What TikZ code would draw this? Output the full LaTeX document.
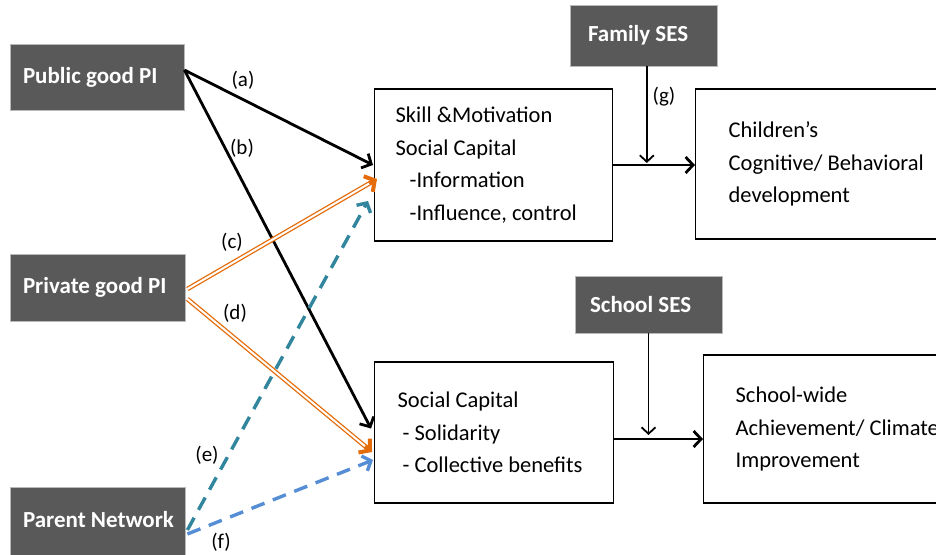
\documentclass[tikz,border=0pt]{standalone}
\usepackage{fontspec}
\setmainfont{Carlito}
\usetikzlibrary{arrows.meta,calc}
\definecolor{boxgray}{HTML}{595959}
\definecolor{orng}{HTML}{E46C0A}
\definecolor{tealc}{HTML}{31859C}
\definecolor{bluec}{HTML}{558ED5}
\begin{document}
\begin{tikzpicture}[x=1pt,y=-1pt,
  darkbox/.style={fill=boxgray, draw=gray!55, line width=0.8pt, text=white, inner ysep=0pt,
    align=flush left, font=\fontsize{23}{26}\selectfont\bfseries},
  whitebox/.style={draw=black, line width=1.3pt, fill=white, align=flush left, anchor=west, inner ysep=0pt,
    font=\fontsize{22.5}{32.5}\selectfont},
  lbl/.style={font=\fontsize{21}{25}\selectfont, inner sep=0pt},
  blk/.style={line width=2.8pt, -{Straight Barb[length=7.5pt,width=16pt]}},
  thinblk/.style={line width=1.8pt, -{Straight Barb[length=6.5pt,width=14pt]}},
  dbl/.style={draw=orng, double=white, line width=1.3pt, double distance=2pt, shorten >=7pt},
  otip/.style={orng, line width=4pt, -{Straight Barb[length=7.5pt,width=18pt]}},
  dsh/.style={line width=3.4pt, dash pattern=on 14pt off 9pt, -{Straight Barb[length=7pt,width=16pt]}}
]
\useasboundingbox (0,0) rectangle (936,554);
\clip (0,0) rectangle (936,554);
% dark boxes
\node[darkbox, text width=148pt, inner xsep=13pt, minimum height=66pt] (pub) at (97,77) {Public good PI};
\node[darkbox, text width=149pt, inner xsep=13pt, minimum height=67pt] (priv) at (97.5,287.5) {Private good PI};
\node[darkbox, text width=149pt, inner xsep=13pt, minimum height=70pt] (par) at (97.5,522) {\raisebox{5pt}{Parent Network}};
\node[darkbox, text width=111pt, inner xsep=18pt, minimum height=61pt] (fam) at (643.5,35.5) {Family SES};
\node[darkbox, text width=117pt, inner xsep=15pt, minimum height=57pt] (ssch) at (648.5,304.5) {School SES};
% white boxes
\node[whitebox, text width=196pt, inner xsep=21pt, minimum height=152pt] (skill) at (374,165)
  {Skill \&Motivation\\Social Capital\\\hspace*{14pt}-Information\\\hspace*{14pt}-Influence, control};
\node[whitebox, text width=230pt, inner xsep=33pt, minimum height=150pt] (child) at (695,164)
  {Children’s\\Cognitive/ Behavioral\\development};
\node[whitebox, text width=193pt, inner xsep=23pt, minimum height=141pt] (soc) at (374,432.5)
  {Social Capital\\\hspace*{5pt}- Solidarity\\\hspace*{5pt}- Collective benefits};
\node[whitebox, text width=250pt, inner xsep=32pt, minimum height=148pt] (swide) at (703,429)
  {School-wide\\Achievement/ Climate\\Improvement};
% connector end points
\coordinate (a0) at ($(pub.east)+(0,-7)$);
\coordinate (a1) at ($(skill.west)+(-1,0)$);
\coordinate (b1) at ($(soc.west)+(-3,-4)$);
\coordinate (c0) at ($(priv.east)+(2,1.5)$);
\coordinate (c1) at ($(skill.west)+(3,14)$);
\coordinate (d0) at ($(priv.east)+(2,11.5)$);
\coordinate (d1) at ($(soc.west)+(-2,19.5)$);
\coordinate (e0) at ($(par.east)+(2,8)$);
\coordinate (e1) at ($(skill.west)+(-6,36)$);
\coordinate (f0) at ($(par.east)+(2,12)$);
\coordinate (f1) at ($(soc.west)+(-1,27.5)$);
% (a),(b)
\draw[blk] (a0) -- (a1);
\draw[blk] (a0) -- (b1);
% (c),(d) orange double
\draw[dbl] (c0) -- (c1);
\draw[otip] ($(c1)!9pt!(c0)$) -- (c1);
\draw[dbl] (d0) -- (d1);
\draw[otip] ($(d1)!9pt!(d0)$) -- (d1);
% (e),(f) dashed
\draw[dsh, tealc] (e0) -- (e1);
\draw[dsh, bluec] (f0) -- (f1);
% outputs
\coordinate (t0) at (skill.east);
\coordinate (t1) at (skill.east -| child.west);
\draw[blk] (t0) -- (t1);
\coordinate (j1) at ($(t0)!0.41!(t1)+(0,-2)$);
\draw[thinblk] (fam.south -| j1) -- (j1);
\coordinate (u0) at ($(soc.east)+(0,6.5)$);
\coordinate (u1) at (u0 -| swide.west);
\draw[blk] (u0) -- (u1);
\coordinate (j2) at ($(u0 -| ssch.south)+(0,-4)$);
\draw[thinblk] (ssch.south) -- (j2);
% labels
\node[lbl] (la) at (243,80) {(a)};
\node[lbl] (lb) at (242,148) {(b)};
\node[lbl] (lc) at (232,242) {(c)};
\node[lbl] (ld) at (235,313) {(d)};
\node[lbl] (le) at (207,455) {(e)};
\node[lbl] (lf) at (221,542) {(f)};
\node[lbl] (lg) at (664,97) {(g)};
\end{tikzpicture}
\end{document}
